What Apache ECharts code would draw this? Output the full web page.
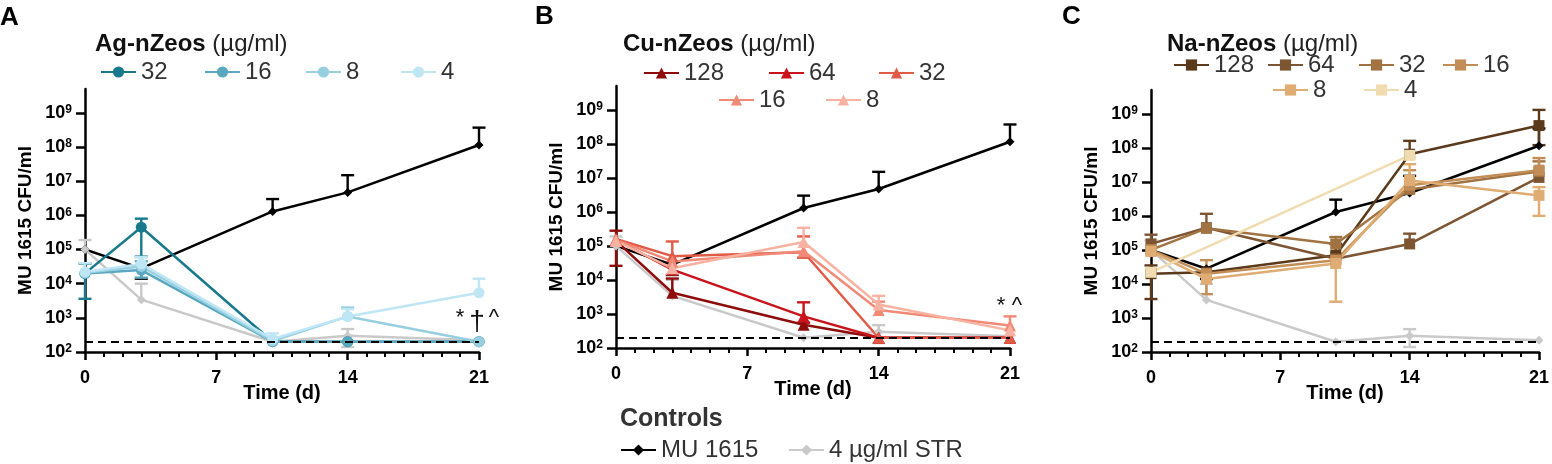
<!DOCTYPE html>
<html>
<head>
<meta charset="utf-8">
<script src="https://cdn.jsdelivr.net/npm/echarts@6/dist/echarts.min.js"></script>
<style>
  html, body { margin: 0; padding: 0; background: #fff; }
  #chart { width: 1552px; height: 464px; }
</style>
</head>
<body>
<div id="chart"></div>
<script>
  // sampling days and axis ticks
  const days = [0, 3, 10, 14, 21];
  const yTicks = [1e2, 1e3, 1e4, 1e5, 1e6, 1e7, 1e8, 1e9];
  const detectionLimit = 200;

  // controls (same in every panel)
  const mu1615 = [1e5, 2.8e4, 1.3e6, 4.7e6, 1.15e8];
  const mu1615Hi = [null, null, 3e6, 1.5e7, 3.7e8];
  const mu1615Lo = [null, 1.4e4, null, null, null];
  const str4 = [1e5, 3.4e3, 200, 300, 220];
  const str4Hi = [1.9e5, 1e4, null, 470, null];
  const str4Lo = [null, null, null, 140, null];

  // A: Ag-nZeos
  const ag32 = [2e4, 4.5e5, 200, 200, 200];
  const ag32Hi = [3.9e4, 8e5, null, null, null];
  const ag32Lo = [3.6e3, 6.2e4, null, null, null];
  const ag16 = [2e4, 2.5e4, 200, 200, 200];
  const ag16Hi = [null, 4.5e4, null, null, null];
  const ag16Lo = [null, 1.5e4, null, null, null];
  const ag8 = [2.1e4, 3.2e4, 210, 1.1e3, 200];
  const ag8Hi = [null, 6e4, null, 2e3, null];
  const ag8Lo = [null, null, null, null, null];
  const ag4 = [2.2e4, 3.8e4, 240, 1.1e3, 5.4e3];
  const ag4Hi = [4e4, 6e4, 350, 1.8e3, 1.4e4];
  const ag4Lo = [null, null, null, null, null];

  // B: Cu-nZeos
  const cu128 = [1.4e5, 4.2e3, 4.8e2, 200, 200];
  const cu128Hi = [2.8e5, 1.1e4, null, null, null];
  const cu128Lo = [2.6e4, null, null, null, null];
  const cu64 = [1.5e5, 2e4, 8.5e2, 200, 200];
  const cu64Hi = [null, null, 2.2e3, null, null];
  const cu64Lo = [null, null, 5.5e2, null, null];
  const cu32 = [1.6e5, 5e4, 6.5e4, 200, 200];
  const cu32Hi = [null, 1.35e5, 1.9e5, null, null];
  const cu32Lo = [null, null, 4.5e4, null, null];
  const cu16 = [1.5e5, 3.5e4, 7e4, 1.3e3, 4.6e2];
  const cu16Hi = [null, null, null, 2.3e3, 8.5e2];
  const cu16Lo = [null, null, null, null, null];
  const cu8 = [1.4e5, 2.2e4, 1.3e5, 1.9e3, 3.3e2];
  const cu8Hi = [null, null, 3.4e5, 3.4e3, null];
  const cu8Lo = [null, 1.5e4, null, null, null];

  // C: Na-nZeos
  const na128 = [2e4, 2.2e4, 7e4, 6.5e7, 4.5e8];
  const na128Hi = [3.5e4, null, 1.5e5, 1.6e8, 1.3e9];
  const na128Lo = [3.6e3, null, null, null, 1.2e8];
  const na64 = [1.5e5, 4.5e5, 5.5e4, 1.5e5, 1.35e7];
  const na64Hi = [2.8e5, 1.15e6, null, 3e5, null];
  const na64Lo = [null, null, null, null, null];
  const na32 = [1e5, 4.3e5, 1.5e5, 6e6, 2e7];
  const na32Hi = [null, null, 2.4e5, null, 4e7];
  const na32Lo = [null, null, null, null, null];
  const na16 = [1e5, 2e4, 5e4, 8e6, 2.2e7];
  const na16Hi = [null, 5e4, null, 2.2e7, 5e7];
  const na16Lo = [null, 5e3, null, null, null];
  const na8 = [9e4, 1.4e4, 4e4, 1.1e7, 4e6];
  const na8Hi = [null, null, null, 3.3e7, 7e6];
  const na8Lo = [null, null, 3e3, null, 1e6];
  const na4 = [2.2e4, null, null, 6e7, null];
  const na4Hi = [null, null, null, null, null];
  const na4Lo = [null, null, null, null, null];

  const FONT = 'Liberation Sans, Arial, sans-serif';

  const panels = [
    {
      grid: { left: 85, top: 89, width: 394, height: 263 },
      symbol: 'circle', size: 11,
      items: [
        ['Ag 32', ag32, ag32Hi, ag32Lo, '#17798b', [100, 60]],
        ['Ag 16', ag16, ag16Hi, ag16Lo, '#5aa8c0', [204, 60]],
        ['Ag 8', ag8, ag8Hi, ag8Lo, '#96cfe0', [305, 60]],
        ['Ag 4', ag4, ag4Hi, ag4Lo, '#bfe6f4', [400, 60]]
      ]
    },
    {
      grid: { left: 616, top: 86, width: 394, height: 262 },
      symbol: 'triangle', size: 12,
      items: [
        ['Cu 128', cu128, cu128Hi, cu128Lo, '#8e0c0c', [643, 61]],
        ['Cu 64', cu64, cu64Hi, cu64Lo, '#c8141a', [768, 61]],
        ['Cu 32', cu32, cu32Hi, cu32Lo, '#e05a46', [878, 61]],
        ['Cu 16', cu16, cu16Hi, cu16Lo, '#f08a76', [718, 88]],
        ['Cu 8', cu8, cu8Hi, cu8Lo, '#f8b2a2', [825, 88]]
      ]
    },
    {
      grid: { left: 1151, top: 90, width: 394, height: 262 },
      symbol: 'rect', size: 11,
      items: [
        ['Na 128', na128, na128Hi, na128Lo, '#5b3a1b', [1173, 53]],
        ['Na 64', na64, na64Hi, na64Lo, '#7d5532', [1267, 53]],
        ['Na 32', na32, na32Hi, na32Lo, '#a27342', [1358, 53]],
        ['Na 16', na16, na16Hi, na16Lo, '#c28d56', [1442, 53]],
        ['Na 8', na8, na8Hi, na8Lo, '#dfac74', [1272, 78]],
        ['Na 4', na4, na4Hi, na4Lo, '#f0dcb0', [1363, 78]]
      ]
    }
  ];

  function toPoints(vals) {
    return days.map((d, i) => [d, vals[i]]).filter(p => p[1] != null);
  }

  function toErrors(vals, hi, lo) {
    const out = [];
    days.forEach((d, i) => {
      if (vals[i] == null || (hi[i] == null && lo[i] == null)) return;
      out.push([d, lo[i] != null ? lo[i] : vals[i], hi[i] != null ? hi[i] : vals[i],
        lo[i] != null ? 1 : 0, hi[i] != null ? 1 : 0]);
    });
    return out;
  }

  function renderErrorBar(params, api) {
    const x = api.value(0);
    const lo = api.coord([x, api.value(1)]);
    const hi = api.coord([x, api.value(2)]);
    const half = 6.5;
    const style = { stroke: api.visual('color'), lineWidth: 2.4 };
    const children = [{ type: 'line', shape: { x1: lo[0], y1: lo[1], x2: hi[0], y2: hi[1] }, style }];
    if (api.value(4)) {
      children.push({ type: 'line', shape: { x1: hi[0] - half, y1: hi[1], x2: hi[0] + half, y2: hi[1] }, style });
    }
    if (api.value(3)) {
      children.push({ type: 'line', shape: { x1: lo[0] - half, y1: lo[1], x2: lo[0] + half, y2: lo[1] }, style });
    }
    return { type: 'group', children };
  }

  function lineSeries(name, vals, color, symbol, size, p) {
    return {
      type: 'line', name, xAxisIndex: p, yAxisIndex: p,
      data: toPoints(vals), symbol, symbolSize: size,
      lineStyle: { width: 2.5, color }, itemStyle: { color },
      emphasis: { disabled: true }
    };
  }

  function errorSeries(name, vals, hi, lo, color, p) {
    return {
      type: 'custom', name: name + ' sd', xAxisIndex: p, yAxisIndex: p,
      renderItem: renderErrorBar, data: toErrors(vals, hi, lo),
      encode: { x: 0, y: [1, 2] }, itemStyle: { color }, silent: true
    };
  }

  const series = [];
  const legends = [];
  panels.forEach((panel, p) => {
    const mu = lineSeries('MU 1615', mu1615, '#000', 'diamond', 9, p);
    mu.markLine = {
      silent: true, symbol: ['none', 'none'], label: { show: false },
      lineStyle: { color: '#000', type: [8, 5], width: 1.8 },
      data: [{ yAxis: detectionLimit }]
    };
    series.push(mu, errorSeries('MU 1615', mu1615, mu1615Hi, mu1615Lo, '#000', p));
    series.push(lineSeries('4 µg/ml STR', str4, '#c9c9c9', 'diamond', 9, p),
      errorSeries('4 µg/ml STR', str4, str4Hi, str4Lo, '#c9c9c9', p));
    panel.items.forEach(([name, vals, hi, lo, color, pos]) => {
      series.push(lineSeries(name, vals, color, panel.symbol, panel.size, p),
        errorSeries(name, vals, hi, lo, color, p));
      legends.push({ data: [name], left: pos[0], top: pos[1] });
    });
  });
  legends.push({ data: ['MU 1615'], left: 620, top: 438 });
  legends.push({ data: ['4 µg/ml STR'], left: 788, top: 438 });

  const legendStyle = {
    orient: 'horizontal', padding: 0, itemWidth: 35, itemHeight: 14,
    selectedMode: false,
    formatter: n => n.replace(/^(Ag|Cu|Na) /, ''),
    textStyle: { fontSize: 24, color: '#333', fontFamily: FONT }
  };

  const xAxes = panels.map((panel, p) => ({
    type: 'value', gridIndex: p, min: 0, max: 21, interval: 7,
    axisLine: { lineStyle: { color: '#000', width: 2.5 } },
    axisTick: { length: 8, lineStyle: { color: '#000', width: 2.5 } },
    minorTick: { show: true, splitNumber: 7, length: 5, lineStyle: { color: '#000', width: 2 } },
    splitLine: { show: false },
    axisLabel: { fontSize: 18, fontWeight: 'bold', color: '#000', margin: 17, fontFamily: FONT },
    name: 'Time (d)', nameLocation: 'middle', nameGap: 31, nameMoveOverlap: false,
    nameTextStyle: { fontSize: 20, fontWeight: 'bold', color: '#000', fontFamily: FONT }
  }));

  const yAxes = panels.map((panel, p) => ({
    type: 'log', logBase: 10, gridIndex: p, min: 100, max: 5e9,
    axisLine: { show: true, lineStyle: { color: '#000', width: 2.5 } },
    axisTick: { length: 9, lineStyle: { color: '#000', width: 2.5 }, customValues: yTicks },
    splitLine: { show: false },
    axisLabel: {
      margin: 13, customValues: yTicks,
      formatter: v => '{b|10}{s|' + Math.round(Math.log10(v)) + '}',
      rich: {
        b: { fontSize: 18, fontWeight: 'bold', color: '#000', fontFamily: FONT },
        s: { fontSize: 12, fontWeight: 'bold', color: '#000', fontFamily: FONT, verticalAlign: 'top' }
      }
    },
    name: 'MU 1615 CFU/ml', nameLocation: 'middle', nameGap: 50, nameMoveOverlap: false,
    nameTextStyle: { fontSize: 19, fontWeight: 'bold', color: '#000', fontFamily: FONT }
  }));

  const titleRich = {
    b: { fontSize: 24, fontWeight: 'bold', color: '#111', fontFamily: FONT }
  };
  const titles = [
    { text: 'A', left: 0, top: 5 },
    { text: 'B', left: 535, top: 4 },
    { text: 'C', left: 1062, top: 4 }
  ].map(t => Object.assign(t, { padding: 0, textStyle: { fontSize: 26, fontWeight: 'bold', color: '#000', fontFamily: FONT } }));
  [
    ['{b|Ag-nZeos} (µg/ml)', 95, 32],
    ['{b|Cu-nZeos} (µg/ml)', 623, 32],
    ['{b|Na-nZeos} (µg/ml)', 1167, 32]
  ].forEach(([text, left, top]) => titles.push({
    text, left, top, padding: 0,
    textStyle: { fontSize: 24, fontWeight: 'normal', color: '#222', fontFamily: FONT, rich: titleRich }
  }));
  titles.push({ text: 'Controls', left: 620, top: 407, padding: 0,
    textStyle: { fontSize: 25, fontWeight: 'bold', color: '#333', fontFamily: FONT } });

  const marks = [
    ['*', 460, 318, 22], ['†', 477, 322, 28], ['^', 494, 318, 22],
    ['*', 1001, 306, 22], ['^', 1017, 306, 22]
  ].map(([t, x, y, fs]) => ({
    type: 'text', x, y,
    style: { text: t, fontSize: fs, fontFamily: FONT, fill: '#111', align: 'center', verticalAlign: 'middle' }
  }));

  const chart = echarts.init(document.getElementById('chart'), null, { renderer: 'canvas' });
  chart.setOption({
    animation: false,
    backgroundColor: '#fff',
    textStyle: { fontFamily: FONT },
    title: titles,
    legend: legends.map(l => Object.assign({}, legendStyle, l)),
    grid: panels.map(p => p.grid),
    xAxis: xAxes,
    yAxis: yAxes,
    graphic: marks,
    series
  });

  window.addEventListener('resize', () => chart.resize());
</script>
</body>
</html>
